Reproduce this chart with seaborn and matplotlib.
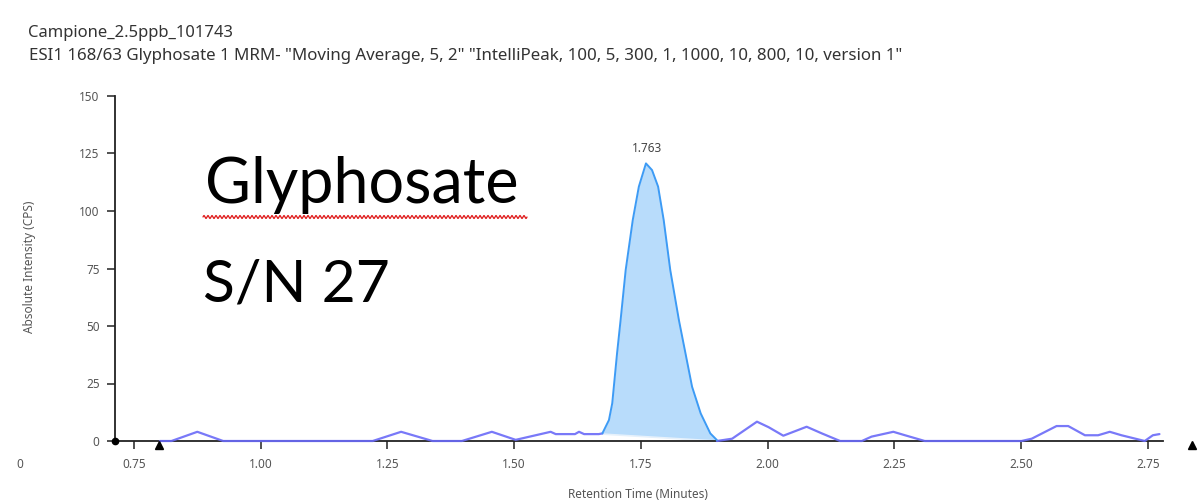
import numpy as np
import matplotlib
matplotlib.use("Agg")
import matplotlib.pyplot as plt
import seaborn as sns
import pandas as pd

# ---------------- data ----------------
title_sample = "Campione_2.5ppb_101743"
title_trace = 'ESI1 168/63 Glyphosate 1 MRM- "Moving Average, 5, 2" "IntelliPeak, 100, 5, 300, 1, 1000, 10, 800, 10, version 1"'
compound = "Glyphosate"
sn_text = "S/N 27"
peak_label = "1.763"
x_label = "Retention Time (Minutes)"
y_label = "Absolute Intensity (CPS)"
x_ticks = [0.75, 1.00, 1.25, 1.50, 1.75, 2.00, 2.25, 2.50, 2.75]
y_ticks = [0, 25, 50, 75, 100, 125, 150]

pre_time = [0.801, 0.824, 0.875, 0.926, 1.221, 1.277, 1.339, 1.397, 1.456, 1.503,
            1.572, 1.582, 1.620, 1.628, 1.638, 1.667, 1.674]
pre_int = [0, 0, 4, 0, 0, 4, 0, 0, 4, 0.5,
           4, 3, 3, 4, 3, 3, 3.3]

peak_time = [1.674, 1.687, 1.6935, 1.703, 1.710, 1.720, 1.734, 1.746, 1.760, 1.772,
             1.784, 1.795, 1.808, 1.825, 1.838, 1.851, 1.868, 1.887, 1.900]
peak_int = [3.3, 9.1, 16.4, 38.1, 52.6, 74.3, 96.1, 110.6, 120.7, 117.8,
            110.6, 96.1, 74.3, 52.6, 38.1, 23.6, 12.0, 3.3, 0.4]

post_time = [1.900, 1.930, 1.979, 2.002, 2.031, 2.077, 2.107, 2.143, 2.186, 2.205,
             2.248, 2.271, 2.310, 2.501, 2.521, 2.570, 2.593, 2.626, 2.652, 2.675,
             2.698, 2.744, 2.760, 2.773]
post_int = [0, 1, 8.4, 6, 2.3, 6.2, 3.3, 0, 0, 1.9,
            4, 2.5, 0, 0, 1, 6.5, 6.5, 2.5, 2.5, 4,
            2.5, 0, 2.5, 3]

# ---------------- figure ----------------
sns.set_style("white")
plt.rcParams["font.family"] = ["Noto Sans", "DejaVu Sans"]

W, H = 1204, 504
fig = plt.figure(figsize=(W / 100, H / 100), dpi=100)
ax_l, ax_r, ax_b, ax_t = 115, 1163, 441, 96
ax = fig.add_axes([ax_l / W, 1 - ax_b / H, (ax_r - ax_l) / W, (ax_b - ax_t) / H])

xmin, xmax = 0.7126, 2.78
ax.set_xlim(xmin, xmax)
ax.set_ylim(0, 150)

trace_col = "#6a6af8"
peak_col = "#3d9bf5"
fill_col = "#b8dcfb"

df_pre = pd.DataFrame({"t": pre_time, "i": pre_int})
df_peak = pd.DataFrame({"t": peak_time, "i": peak_int})
df_post = pd.DataFrame({"t": post_time, "i": post_int})

# peak fill between curve and straight baseline from start to end
pt = np.array(peak_time)
pi = np.array(peak_int)
base = np.interp(pt, [pt[0], pt[-1]], [pi[0], 0.0])
ax.fill_between(pt, base, pi, color=fill_col, lw=0, zorder=2)
ax.plot([pt[0], pt[-1]], [pi[0] - 0.3, 0.0], color="#e6f1fb", lw=1.2, zorder=2.5)

sns.lineplot(data=df_pre, x="t", y="i", ax=ax, color=trace_col, lw=1.6, zorder=4,
             alpha=0.9, clip_on=False)
sns.lineplot(data=df_post, x="t", y="i", ax=ax, color=trace_col, lw=1.6, zorder=4,
             alpha=0.9, clip_on=False)
sns.lineplot(data=df_peak, x="t", y="i", ax=ax, color=peak_col, lw=1.4, zorder=4,
             clip_on=False)

# axes styling
for s in ["top", "right"]:
    ax.spines[s].set_visible(False)
for s in ["left", "bottom"]:
    ax.spines[s].set_color("#222222")
    ax.spines[s].set_linewidth(1.3)
    ax.spines[s].set_zorder(3)

ax.set_xticks(x_ticks)
ax.set_xticklabels([f"{v:.2f}" for v in x_ticks])
ax.set_yticks(y_ticks)
ax.set_yticklabels([str(v) for v in y_ticks])
ax.tick_params(axis="both", which="major", direction="out", length=6, width=1.2,
               color="#333333", labelsize=8.5, labelcolor="#555555", pad=5,
               left=True, bottom=True)
ax.tick_params(axis="x", pad=6)
ax.set_xlabel("")
ax.set_ylabel("")

# markers at the axis
ax.plot([xmin], [0], marker="o", ms=4.5, color="black", clip_on=False, zorder=6)
ax.plot([0.80], [-1.8], marker="^", ms=6, color="black", clip_on=False, zorder=6)
ax.plot([2.837], [-1.8], marker="^", ms=6, color="black", clip_on=False, zorder=6)

# peak label
ax.annotate(peak_label, xy=(1.762, 120.7), xytext=(0, 6), textcoords="offset points",
            ha="center", va="bottom", fontsize=8.5, color="#444444")

# texts in figure coords
t1 = fig.text(28 / W, 1 - 33 / H, title_sample, fontsize=9, color="#333333", va="center", ha="left")
t2 = fig.text(29 / W, 1 - 56 / H, title_trace, fontsize=9, color="#333333", va="center", ha="left")
fig.text(30 / W, 1 - 267 / H, y_label, rotation=90, fontsize=8.5, color="#555555",
         va="center", ha="center")
fig.text(638 / W, 1 - 495 / H, x_label, fontsize=8.5, color="#555555", va="center", ha="center")
fig.text(20 / W, 1 - 465 / H, "0", fontsize=8.5, color="#555555", va="center", ha="center")

ident = matplotlib.transforms.IdentityTransform()
g = fig.text(205, H - 203, compound, transform=ident, fontsize=40,
             family=["Lato", "DejaVu Sans"], color="black", ha="left", va="baseline")
sn = fig.text(203, H - 302, sn_text, transform=ident, fontsize=40,
              family=["Lato", "DejaVu Sans"], color="black", ha="left", va="baseline")

# fit text widths to reference layout
fig.canvas.draw()
r = fig.canvas.get_renderer()
for txt, target in [(t1, 204), (t2, 875), (g, 313), (sn, 187)]:
    w = txt.get_window_extent(r).width
    txt.set_fontsize(txt.get_fontsize() * target / w)

# red wavy spell-check underline under the compound name
ux = np.linspace(203, 527, 600)
uy = (H - 217) + 1.5 * np.sin((ux - 203) / 2.0 * np.pi)
fig.add_artist(matplotlib.lines.Line2D(ux / W, uy / H, color="#e02020", lw=0.9))

fig.savefig("out.png", dpi=100)
